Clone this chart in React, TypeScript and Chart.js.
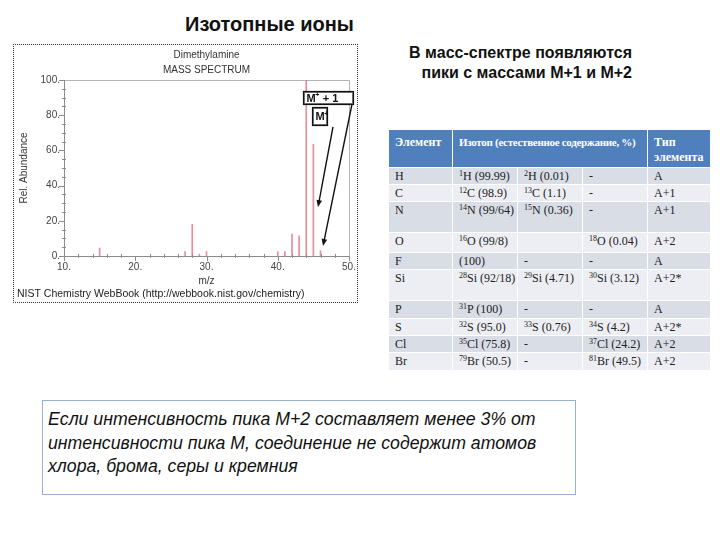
import React, { useEffect, useRef } from 'react';
import { Chart, registerables } from 'chart.js';

Chart.register(...registerables);

// ---- Spectrum data ----
const massToCharge = [15, 27, 28, 29, 30, 40, 41, 42, 43, 44, 45, 46];
const relAbundance = [4.5, 2.5, 18, 1, 2.5, 2.5, 2.5, 12.5, 11.5, 100, 63.5, 3];
const spectrumTitle = ['Dimethylamine', 'MASS SPECTRUM'];
const sourceCredit = 'NIST Chemistry WebBook (http://webbook.nist.gov/chemistry)';
const xAxisLabel = 'm/z';
const yAxisLabel = 'Rel. Abundance';

// annotation labels (data coordinates)
const annLabels = ['M|+| + 1', 'M|+|'];
const annBoxX0 = [43.6, 44.85];
const annBoxX1 = [50.5, 46.95];
const annBoxYTop = [94, 84.5];
const annBoxYBot = [86.5, 74.5];
const arrowFrom = [[47.75, 73.3], [50.4, 85.8]];
const arrowTo = [[45.65, 27.8], [46.35, 5.7]];

// ---- Table data ----
const tableHeader = ['Элемент', 'Изотоп (естественное содержание, %)', 'Тип элемента'];
const elements = ['H', 'C', 'N', 'O', 'F', 'Si', 'P', 'S', 'Cl', 'Br'];
// [mass number, symbol, abundance]; null = "-", [] = empty
const isotope1: (string[] | null)[] = [
  ['1', 'H', '(99.99)'], ['12', 'C', '(98.9)'], ['14', 'N', '(99/64)'], ['16', 'O', '(99/8)'],
  ['', '', '(100)'], ['28', 'Si', '(92/18)'], ['31', 'P', '(100)'], ['32', 'S', '(95.0)'],
  ['35', 'Cl', '(75.8)'], ['79', 'Br', '(50.5)'],
];
const isotope2: (string[] | null)[] = [
  ['2', 'H', '(0.01)'], ['13', 'C', '(1.1)'], ['15', 'N', '(0.36)'], [],
  null, ['29', 'Si', '(4.71)'], null, ['33', 'S', '(0.76)'], null, null,
];
const isotope3: (string[] | null)[] = [
  null, null, null, ['18', 'O', '(0.04)'], null, ['30', 'Si', '(3.12)'], null,
  ['34', 'S', '(4.2)'], ['37', 'Cl', '(24.2)'], ['81', 'Br', '(49.5)'],
];
const elementTypes = ['A', 'A+1', 'A+1', 'A+2', 'A', 'A+2*', 'A', 'A+2*', 'A+2', 'A+2'];
const rowHeights = [17, 17, 31, 20, 17, 31, 18, 17, 17, 18];

const pageTitle = 'Изотопные ионы';
const subHeading = ['В масс-спектре появляются', 'пики с массами M+1 и M+2'];
const noteLines = [
  'Если интенсивность пика М+2 составляет менее 3% от',
  'интенсивности пика М, соединение не содержит атомов',
  'хлора, брома, серы и кремния',
];

const SANS = '"Liberation Sans", Arial, sans-serif';
const SERIF = '"Liberation Serif", "Times New Roman", serif';

const spectrumPlugin = {
  id: 'spectrumDecor',
  beforeDatasetsDraw(chart: any) {
    const { ctx, chartArea, scales } = chart;
    const { left, right, top, bottom } = chartArea;
    const xs = scales.x;
    const ys = scales.y;
    ctx.save();
    ctx.lineWidth = 1;
    // frame
    ctx.strokeStyle = '#b4b4b4';
    ctx.beginPath();
    ctx.moveTo(Math.round(left), Math.round(top) + 0.5);
    ctx.lineTo(Math.round(right) + 0.5, Math.round(top) + 0.5);
    ctx.lineTo(Math.round(right) + 0.5, Math.round(bottom));
    ctx.stroke();
    ctx.strokeStyle = '#8c8c8c';
    ctx.beginPath();
    ctx.moveTo(Math.round(left) + 0.5, Math.round(top));
    ctx.lineTo(Math.round(left) + 0.5, Math.round(bottom) + 0.5);
    ctx.lineTo(Math.round(right) + 0.5, Math.round(bottom) + 0.5);
    ctx.stroke();
    // y ticks
    for (let v = ys.min; v <= ys.max; v += 5) {
      const py = Math.round(ys.getPixelForValue(v)) + 0.5;
      const major = v % 20 === 0;
      ctx.beginPath();
      ctx.moveTo(left - (major ? 5 : 2), py);
      ctx.lineTo(left + (major ? 0 : 2), py);
      ctx.stroke();
    }
    // x ticks
    for (let v = xs.min; v <= xs.max; v += 2) {
      const px = Math.round(xs.getPixelForValue(v)) + 0.5;
      const major = v % 10 === 0;
      ctx.beginPath();
      ctx.moveTo(px, bottom + (major ? 5 : 2));
      ctx.lineTo(px, bottom - (major ? 0 : 2));
      ctx.stroke();
    }
    ctx.restore();
  },
  afterDatasetsDraw(chart: any) {
    const { ctx, scales } = chart;
    const xs = scales.x;
    const ys = scales.y;
    ctx.save();
    // arrows
    ctx.strokeStyle = '#111';
    ctx.fillStyle = '#111';
    ctx.lineWidth = 1.4;
    arrowFrom.forEach((f, i) => {
      const x0 = xs.getPixelForValue(f[0]);
      const y0 = ys.getPixelForValue(f[1]);
      const x1 = xs.getPixelForValue(arrowTo[i][0]);
      const y1 = ys.getPixelForValue(arrowTo[i][1]);
      const ang = Math.atan2(y1 - y0, x1 - x0);
      ctx.beginPath();
      ctx.moveTo(x0, y0);
      ctx.lineTo(x1 - 5 * Math.cos(ang), y1 - 5 * Math.sin(ang));
      ctx.stroke();
      ctx.beginPath();
      ctx.moveTo(x1, y1);
      ctx.lineTo(x1 - 7 * Math.cos(ang) + 2.8 * Math.sin(ang), y1 - 7 * Math.sin(ang) - 2.8 * Math.cos(ang));
      ctx.lineTo(x1 - 7 * Math.cos(ang) - 2.8 * Math.sin(ang), y1 - 7 * Math.sin(ang) + 2.8 * Math.cos(ang));
      ctx.closePath();
      ctx.fill();
    });
    // boxes
    annLabels.forEach((lab, i) => {
      const bx0 = Math.round(xs.getPixelForValue(annBoxX0[i])) + 0.5;
      const bx1 = Math.round(xs.getPixelForValue(annBoxX1[i])) + 0.5;
      const by0 = Math.round(ys.getPixelForValue(annBoxYTop[i])) + 0.5;
      const by1 = Math.round(ys.getPixelForValue(annBoxYBot[i])) + 0.5;
      ctx.fillStyle = '#fff';
      ctx.fillRect(bx0, by0, bx1 - bx0, by1 - by0);
      ctx.strokeStyle = '#777';
      ctx.lineWidth = 1;
      ctx.strokeRect(bx0 + 1, by0 + 1, bx1 - bx0 - 2, by1 - by0 - 2);
      ctx.strokeStyle = '#111';
      ctx.lineWidth = 1.2;
      ctx.strokeRect(bx0, by0, bx1 - bx0, by1 - by0);
      const parts = lab.split('|');
      let tx = bx0 + 3;
      const ty = (by0 + by1) / 2 + 0.5;
      ctx.fillStyle = '#111';
      ctx.textBaseline = 'middle';
      ctx.textAlign = 'left';
      ctx.font = `bold 11px ${SANS}`;
      ctx.fillText(parts[0], tx, ty);
      tx += ctx.measureText(parts[0]).width;
      ctx.font = `bold 7px ${SANS}`;
      ctx.fillText(parts[1], tx - 0.5, ty - 3);
      tx += ctx.measureText(parts[1]).width;
      ctx.font = `bold 11px ${SANS}`;
      if (parts[2]) ctx.fillText(parts[2], tx, ty);
    });
    ctx.restore();
  },
};

export default function App() {
  const canvasRef = useRef<HTMLCanvasElement>(null);

  useEffect(() => {
    if (!canvasRef.current) return;
    const chart = new Chart(canvasRef.current, {
      type: 'bar',
      data: {
        datasets: [
          {
            data: massToCharge.map((m, i) => ({ x: m, y: relAbundance[i] })),
            backgroundColor: 'rgba(226, 112, 128, 0.8)',
            borderWidth: 0,
            barThickness: 1,
          },
        ],
      },
      options: {
        animation: false,
        responsive: false,
        events: [],
        layout: { padding: { top: 0, right: 8, bottom: 0, left: 3 } },
        plugins: {
          legend: { display: false },
          tooltip: { enabled: false },
          title: {
            display: true,
            text: spectrumTitle,
            fullSize: false,
            color: '#333',
            font: { family: SANS, size: 10, weight: 'normal', lineHeight: 1.5 },
            padding: { top: 3, bottom: 2 },
          },
          subtitle: {
            display: true,
            text: sourceCredit,
            position: 'bottom',
            align: 'start',
            color: '#222',
            font: { family: SANS, size: 10.5, lineHeight: 1.25 },
            padding: { top: 0, bottom: 1 },
          },
        },
        scales: {
          x: {
            type: 'linear',
            min: 10,
            max: 50,
            offset: false,
            grid: { display: false, drawTicks: false },
            border: { display: false },
            ticks: {
              stepSize: 10,
              padding: 5,
              color: '#444',
              font: { family: SANS, size: 10 },
              maxRotation: 0,
              callback: (v: any) => `${v}.`,
            },
            title: {
              display: true,
              text: xAxisLabel,
              color: '#333',
              font: { family: SANS, size: 10, lineHeight: 1.2 },
              padding: { top: 0, bottom: 0.5 },
            },
            afterFit: (s: any) => {
              s.height = 31.9;
              s.paddingLeft = 0;
              s.paddingRight = 0;
            },
          },
          y: {
            min: 0,
            max: 100,
            grid: { display: false, drawTicks: false },
            border: { display: false },
            ticks: {
              stepSize: 20,
              padding: 4,
              color: '#444',
              font: { family: SANS, size: 10 },
              callback: (v: any) => `${v}.`,
            },
            title: {
              display: true,
              text: yAxisLabel,
              color: '#333',
              font: { family: SANS, size: 10, lineHeight: 1.2 },
              padding: { top: 1, bottom: 0 },
            },
            afterFit: (s: any) => {
              s.width = 47;
            },
          },
        },
      },
      plugins: [spectrumPlugin],
    } as any);
    return () => chart.destroy();
  }, []);

  const renderIso = (iso: string[] | null) => {
    if (iso === null) return '-';
    if (iso.length === 0) return '';
    return (
      <>
        {iso[0] ? (
          <span style={{ fontSize: 8, position: 'relative', top: -4, lineHeight: 0 }}>{iso[0]}</span>
        ) : null}
        {iso[1]}
        {iso[1] ? ' ' : ''}
        {iso[2]}
      </>
    );
  };

  const cell: React.CSSProperties = {
    border: '1px solid #fff',
    padding: '1px 6px 0 6px',
    verticalAlign: 'top',
    overflow: 'hidden',
    whiteSpace: 'nowrap',
    lineHeight: '14px',
  };
  const headCell: React.CSSProperties = {
    ...cell,
    paddingTop: 5,
    lineHeight: '15px',
    fontWeight: 'bold',
  };

  return (
    <div
      style={{
        position: 'absolute',
        left: 0,
        top: 0,
        width: 720,
        height: 540,
        background: '#fff',
        fontFamily: SANS,
        color: '#111',
      }}
    >
      <div
        style={{
          position: 'absolute',
          left: 185,
          top: 13,
          fontSize: 20,
          fontWeight: 'bold',
          lineHeight: '22px',
          whiteSpace: 'nowrap',
        }}
      >
        {pageTitle}
      </div>

      <div
        style={{
          position: 'absolute',
          left: 13,
          top: 44,
          width: 345,
          height: 259,
          border: '1px dotted #333',
          boxSizing: 'border-box',
        }}
      >
        <canvas ref={canvasRef} width={343} height={257} style={{ display: 'block' }} />
      </div>

      <div
        style={{
          position: 'absolute',
          left: 380,
          width: 252,
          top: 43,
          textAlign: 'right',
          fontSize: 16,
          fontWeight: 'bold',
          lineHeight: '20px',
          whiteSpace: 'nowrap',
        }}
      >
        {subHeading.map((l, i) => (
          <div key={i}>{l}</div>
        ))}
      </div>

      <table
        style={{
          position: 'absolute',
          left: 388,
          top: 129,
          width: 322,
          borderCollapse: 'collapse',
          tableLayout: 'fixed',
          fontFamily: SERIF,
          fontSize: 12,
          color: '#222',
        }}
      >
        <colgroup>
          <col style={{ width: 64 }} />
          <col style={{ width: 65 }} />
          <col style={{ width: 65 }} />
          <col style={{ width: 65 }} />
          <col style={{ width: 63 }} />
        </colgroup>
        <tbody>
          <tr style={{ height: 38, background: '#4f7fbc', color: '#fff' }}>
            <td style={headCell}>{tableHeader[0]}</td>
            <td colSpan={3} style={{ ...headCell, fontSize: 11, letterSpacing: -0.3 }}>
              {tableHeader[1]}
            </td>
            <td style={{ ...headCell, whiteSpace: 'normal' }}>{tableHeader[2]}</td>
          </tr>
          {elements.map((el, i) => (
            <tr
              key={el}
              style={{ height: rowHeights[i], background: i % 2 === 0 ? '#d9dde6' : '#eceef3' }}
            >
              <td style={cell}>{el}</td>
              <td style={cell}>{renderIso(isotope1[i])}</td>
              <td style={cell}>{renderIso(isotope2[i])}</td>
              <td style={cell}>{renderIso(isotope3[i])}</td>
              <td style={cell}>{elementTypes[i]}</td>
            </tr>
          ))}
        </tbody>
      </table>

      <div
        style={{
          position: 'absolute',
          left: 42,
          top: 400,
          width: 534,
          height: 95,
          boxSizing: 'border-box',
          border: '1px solid #97b1d4',
          padding: '7px 5px',
          fontStyle: 'italic',
          fontSize: 17.7,
          lineHeight: '23.5px',
          color: '#111',
          whiteSpace: 'nowrap',
        }}
      >
        {noteLines.map((l, i) => (
          <div key={i}>{l}</div>
        ))}
      </div>
    </div>
  );
}
